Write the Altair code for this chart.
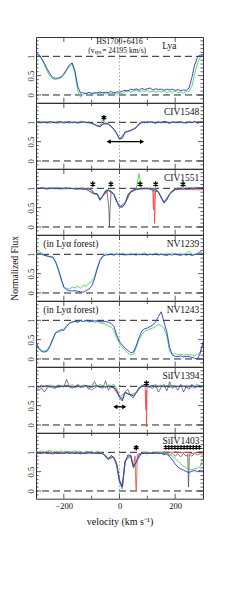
import altair as alt
import pandas as pd

FONT = "Liberation Serif"
VEL = list(range(-300, 301, 10))

# ---------------- data (flux vs velocity) ----------------
LYA_BLUE = [
    1.07, 1.05, 0.95, 0.82, 0.68, 0.55, 0.45, 0.43, 0.44, 0.46,
    0.55, 0.66, 0.78, 0.83, 0.62, 0.22, 0.05, 0.06, 0.03, 0.07,
    0.04, 0.06, 0.05, 0.08, 0.05, 0.07, 0.06, 0.09, 0.05, 0.08,
    0.07, 0.10, 0.12, 0.10, 0.15, 0.13, 0.16, 0.12, 0.17, 0.14,
    0.16, 0.18, 0.13, 0.16, 0.14, 0.15, 0.12, 0.15, 0.13, 0.15,
    0.12, 0.14, 0.11, 0.13, 0.12, 0.18, 0.45, 0.78, 0.97, 1.03,
    1.05]
LYA_GREEN = [
    1.08, 1.02, 0.93, 0.78, 0.62, 0.48, 0.42, 0.40, 0.42, 0.45,
    0.52, 0.63, 0.74, 0.80, 0.55, 0.12, -0.06, 0.02, 0.05, 0.01,
    0.04, 0.02, 0.06, 0.03, 0.07, 0.02, 0.05, 0.03, 0.06, 0.02,
    0.05, 0.04, 0.08, 0.12, 0.07, 0.10, 0.13, 0.08, 0.11, 0.09,
    0.12, 0.08, 0.10, 0.07, 0.10, 0.08, 0.11, 0.06, 0.09, 0.07,
    0.10, 0.06, 0.08, 0.05, 0.09, 0.10, 0.22, 0.55, 0.82, 0.97,
    1.03]

CIV1548_BLUE = [
    1.00, 1.02, 0.99, 1.01, 0.98, 1.02, 1.00, 0.99, 1.02, 1.01,
    0.98, 1.00, 1.02, 0.99, 1.01, 0.98, 1.00, 1.02, 0.99, 1.00,
    0.98, 0.95, 0.92, 0.88, 0.95, 0.98, 0.96, 0.90, 0.82, 0.72,
    0.57, 0.60, 0.75, 0.77, 0.79, 0.82, 0.86, 0.96, 1.00, 1.01,
    0.99, 1.02, 1.00, 0.98, 1.01, 0.99, 1.02, 1.00, 0.98, 1.01,
    1.00, 0.99, 1.02, 0.98, 1.00, 1.01, 0.99, 1.02, 0.98, 1.00,
    1.01]
CIV1548_GREEN = [
    1.02, 0.98, 1.03, 0.99, 1.01, 0.97, 1.02, 1.00, 0.98, 1.03,
    0.99, 1.01, 0.97, 1.02, 1.00, 0.98, 1.03, 0.99, 1.01, 0.98,
    0.97, 0.94, 0.90, 0.89, 1.06, 0.99, 0.95, 0.89, 0.80, 0.70,
    0.56, 0.58, 0.73, 0.76, 0.80, 0.83, 0.88, 0.97, 1.01, 0.98,
    1.03, 0.99, 1.01, 0.97, 1.02, 0.98, 1.03, 1.00, 0.97, 1.02,
    0.99, 1.03, 0.98, 1.01, 0.97, 1.02, 0.99, 1.03, 0.98, 1.01,
    0.99]
CIV1548_RED_V = [-300, -280, -260, -240, -220, -200, -180, -160, -140, -120,
                 -100, -80, -60, -40, -20, 0, 20, 40, 60, 80,
                 100, 120, 140, 160, 180, 200, 220, 240, 260, 280, 300]
CIV1548_RED = [1.00, 0.99, 1.01, 1.00, 0.98, 1.01, 1.00, 0.99, 1.01, 1.00,
               0.98, 0.90, 0.96, 0.95, 0.82, 0.58, 0.74, 0.78, 0.87, 0.99,
               1.01, 0.99, 1.00, 1.02, 0.99, 1.00, 1.01, 0.99, 1.00, 1.02, 1.00]

CIV1551_BLUE = [
    1.00, 0.99, 1.01, 1.00, 0.98, 1.00, 1.01, 0.99, 1.00, 0.98,
    1.00, 1.01, 0.99, 1.00, 0.98, 0.99, 1.00, 0.98, 0.99, 0.98,
    0.95, 0.87, 0.86, 0.70, 0.80, 0.93, 0.95, 0.92, 0.84, 0.65,
    0.52, 0.51, 0.60, 0.82, 0.91, 0.95, 0.98, 0.99, 1.00, 0.99,
    1.00, 0.99, 0.98, 0.97, 0.90, 0.75, 0.62, 0.70, 0.84, 0.93,
    0.97, 0.99, 1.00, 1.01, 0.99, 1.00, 1.01, 1.00, 1.02, 1.00,
    1.02]
CIV1551_GREEN = [
    1.01, 0.99, 1.02, 0.98, 1.00, 1.02, 0.99, 1.01, 0.98, 1.02,
    1.00, 0.98, 1.02, 0.99, 1.01, 0.97, 1.00, 1.02, 0.98, 1.00,
    0.96, 0.86, 0.85, 0.68, 0.82, 0.95, 0.97, 0.93, 0.85, 0.66,
    0.53, 0.52, 0.62, 0.84, 0.92, 0.96, 0.98, 1.38, 0.99, 1.01,
    0.98, 1.02, 0.99, 1.00, 0.92, 0.77, 0.63, 0.72, 0.86, 0.95,
    0.98, 1.01, 0.99, 1.16, 1.00, 1.02, 0.99, 1.03, 1.00, 1.02,
    1.01]
CIV1551_RED_V = [-300, -280, -260, -240, -220, -200, -180, -160, -140, -120,
                 -100, -90, -80, -70, -60, -40, -20, 0, 20, 40,
                 60, 80, 100, 115, 120, 122, 124, 126, 128, 130,
                 140, 160, 180, 200, 220, 240, 260, 280, 300]
CIV1551_RED = [1.00, 1.01, 0.99, 1.00, 1.01, 0.99, 1.00, 0.99, 0.98, 0.97,
               0.90, 0.86, 0.84, 0.70, 0.80, 0.94, 0.84, 0.52, 0.62, 0.90,
               0.97, 0.99, 0.99, 0.98, 0.90, 0.45, 0.95, 0.09, 0.60, 0.97,
               0.90, 0.64, 0.85, 0.96, 0.98, 0.97, 0.97, 0.96, 0.97]
CIV1551_BLACK_V = [-300, -200, -120, -100, -90, -80, -70, -60, -45, -38,
                   -36, -34, -30, -20, 0, 20, 40, 60, 100, 140,
                   160, 180, 200, 300]
CIV1551_BLACK = [1.00, 1.00, 0.99, 0.88, 0.85, 0.84, 0.72, 0.82, 0.93, 0.45,
                 0.00, 0.45, 0.92, 0.84, 0.52, 0.62, 0.90, 0.97, 1.00, 0.90,
                 0.65, 0.85, 0.97, 1.00]

NV1239_BLUE = [
    0.98, 1.02, 1.01, 0.97, 0.96, 0.94, 0.93, 0.82, 0.62, 0.38,
    0.15, 0.08, 0.06, 0.05, 0.06, 0.04, 0.03, 0.02, 0.06, 0.10,
    0.18, 0.36, 0.62, 0.84, 0.95, 0.98, 0.99, 1.00, 0.98, 1.01,
    0.99, 1.00, 0.98, 1.01, 0.99, 1.00, 0.98, 1.01, 0.99, 1.00,
    0.98, 1.00, 0.99, 1.01, 0.98, 1.00, 0.99, 0.97, 1.00, 0.98,
    1.01, 0.99, 0.97, 1.00, 0.98, 1.00, 0.97, 0.99, 1.02, 1.07,
    1.00]
NV1239_GREEN = [
    1.00, 1.08, 1.03, 0.98, 0.95, 0.93, 0.92, 0.80, 0.60, 0.35,
    0.14, 0.12, 0.10, 0.15, 0.13, 0.18, 0.12, 0.20, 0.17, 0.25,
    0.30, 0.42, 0.66, 0.86, 0.96, 1.02, 0.98, 1.03, 0.99, 1.02,
    0.98, 1.03, 1.00, 0.97, 1.02, 0.99, 1.03, 0.98, 1.01, 1.04,
    0.99, 1.02, 0.98, 1.03, 1.00, 1.02, 0.98, 1.01, 0.99, 1.03,
    1.00, 0.98, 1.02, 1.00, 1.03, 1.08, 0.99, 1.01, 1.00, 1.02,
    1.00]

NV1243_BLUE = [
    0.44, 0.27, 0.19, 0.18, 0.20, 0.32, 0.50, 0.68, 0.70, 0.76,
    0.74, 0.84, 0.92, 0.96, 0.97, 0.96, 0.99, 0.97, 1.00, 0.98,
    0.97, 0.99, 0.98, 0.97, 0.96, 0.97, 0.95, 0.92, 0.84, 0.62,
    0.45, 0.36, 0.28, 0.22, 0.16, 0.18, 0.34, 0.55, 0.72, 0.78,
    0.80, 0.84, 0.88, 0.96, 1.10, 1.22, 0.95, 0.70, 0.30, 0.10,
    0.07, 0.06, 0.08, 0.05, 0.07, 0.06, 0.04, 0.02, 0.00, 0.15,
    0.44]
NV1243_GREEN = [
    0.40, 0.30, 0.22, 0.20, 0.24, 0.35, 0.52, 0.66, 0.74, 0.72,
    0.78, 0.86, 0.93, 0.95, 0.98, 0.94, 1.00, 0.96, 0.99, 0.95,
    0.99, 0.94, 0.97, 0.93, 0.92, 0.90, 0.86, 0.82, 0.74, 0.55,
    0.40, 0.30, 0.22, 0.15, 0.10, 0.12, 0.30, 0.50, 0.62, 0.72,
    0.74, 0.78, 0.80, 0.84, 0.90, 0.86, 0.80, 0.60, 0.20, 0.12,
    0.14, 0.10, 0.13, 0.09, 0.12, 0.10, 0.11, 0.08, 0.12, 0.18,
    0.38]

SIIV1394_BLUE = [
    1.00, 0.98, 1.01, 0.99, 1.02, 0.98, 1.00, 0.97, 1.01, 0.99,
    1.00, 1.02, 0.98, 1.00, 0.99, 1.01, 0.97, 1.00, 1.02, 0.99,
    0.98, 1.00, 1.01, 0.99, 1.00, 0.98, 1.00, 0.99, 0.97, 0.90,
    0.72, 0.62, 0.84, 0.80, 0.78, 0.75, 0.82, 0.95, 1.00, 1.01,
    0.99, 1.00, 1.02, 0.98, 1.00, 1.01, 0.99, 1.00, 0.98, 1.01,
    1.00, 0.99, 1.01, 1.00, 0.98, 1.00, 1.02, 0.99, 1.00, 1.01,
    0.99]
SIIV1394_GREEN = [
    1.02, 0.99, 1.03, 1.00, 0.98, 1.04, 1.00, 0.99, 1.03, 1.01,
    0.98, 1.03, 1.00, 1.05, 0.99, 1.02, 0.98, 1.04, 1.00, 1.02,
    0.99, 1.03, 1.00, 1.05, 1.01, 0.98, 1.04, 1.02, 1.05, 0.93,
    0.74, 0.64, 0.86, 0.82, 0.80, 0.77, 0.84, 0.97, 1.02, 1.00,
    1.03, 0.99, 1.02, 1.05, 1.00, 1.03, 0.98, 1.02, 1.04, 1.00,
    1.02, 0.99, 1.04, 1.00, 1.02, 0.98, 1.03, 1.01, 1.05, 1.00,
    1.02]
SIIV1394_RED_V = [-300, -280, -260, -240, -220, -200, -180, -160, -140, -120,
                  -100, -80, -60, -40, -20, 0, 20, 40, 60, 80,
                  92, 95, 96, 97, 99, 120, 140, 160, 180, 200,
                  220, 240, 260, 280, 300]
SIIV1394_RED = [1.00, 0.98, 1.01, 1.00, 0.97, 1.02, 1.00, 0.97, 1.00, 1.01,
                0.90, 1.00, 0.98, 1.00, 0.95, 0.72, 0.84, 0.78, 0.84, 1.00,
                1.00, 0.40, 0.90, -0.05, 1.00, 1.01, 0.99, 1.00, 1.02, 0.99,
                1.00, 1.01, 0.98, 1.00, 1.01]
SIIV1394_BLACK = [
    0.98, 0.90, 0.95, 0.85, 0.97, 1.00, 0.96, 0.95, 1.03, 1.02,
    0.98, 1.18, 1.00, 0.95, 0.99, 1.05, 1.00, 0.98, 1.02, 0.92,
    1.00, 1.12, 1.00, 0.97, 0.95, 1.14, 0.90, 1.00, 0.97, 0.88,
    0.75, 0.68, 0.86, 0.92, 0.75, 0.70, 0.85, 0.96, 1.02, 1.05,
    1.00, 0.97, 0.95, 1.03, 0.85, 0.98, 1.05, 0.88, 1.12, 0.95,
    1.00, 0.90, 1.05, 0.85, 1.00, 0.92, 1.05, 0.95, 1.00, 0.97,
    1.00]

SIIV1403_BLUE = [
    0.97, 0.98, 0.97, 0.99, 0.97, 0.98, 0.96, 0.98, 0.97, 0.98,
    0.97, 0.99, 0.97, 0.98, 0.97, 0.98, 0.96, 0.98, 0.97, 0.99,
    0.97, 0.98, 0.97, 0.98, 0.96, 0.90, 0.82, 0.92, 0.86, 0.68,
    0.25, 0.10, 0.75, 0.93, 0.92, 0.62, 0.75, 0.93, 0.97, 0.98,
    0.96, 0.98, 0.97, 0.99, 0.97, 0.98, 0.96, 0.95, 0.89, 0.80,
    0.70, 0.62, 0.57, 0.54, 0.50, 0.48, 0.51, 0.53, 0.50, 0.54,
    0.51]
SIIV1403_GREEN = [
    1.02, 1.00, 1.04, 0.99, 1.03, 1.05, 1.00, 1.03, 1.01, 1.04,
    1.00, 1.03, 0.99, 1.02, 1.04, 1.00, 1.02, 0.99, 1.03, 1.01,
    1.02, 0.99, 1.03, 1.00, 0.97, 0.88, 0.80, 0.90, 0.85, 0.64,
    0.20, 0.05, 0.72, 0.90, 0.88, 0.58, 0.72, 0.92, 0.97, 1.00,
    0.98, 1.00, 0.97, 0.99, 1.00, 0.98, 0.99, 0.98, 0.95, 0.90,
    0.84, 0.77, 0.70, 0.64, 0.60, 0.56, 0.55, 0.57, 0.59, 0.63,
    0.84]
SIIV1403_RED_V = [-300, -280, -260, -240, -220, -200, -180, -160, -140, -120,
                  -100, -80, -60, -40, -20, -10, 0, 10, 20, 40,
                  50, 56, 58, 60, 62, 64, 80, 100, 120, 140,
                  160, 180, 200, 220, 240, 260, 280, 300]
SIIV1403_RED = [1.00, 0.99, 1.01, 1.00, 0.99, 1.00, 1.01, 0.99, 1.00, 0.99,
                1.00, 0.99, 0.97, 0.85, 0.88, 0.70, 0.28, 0.14, 0.76, 0.93,
                0.65, 0.90, 0.30, 0.02, 0.40, 0.95, 0.98, 1.00, 0.99, 1.00,
                1.01, 1.00, 1.01, 0.99, 1.00, 0.97, 1.00, 1.01]
SIIV1403_BLACK_V = [-300, -260, -220, -180, -140, -100, -60, -40, -20, -10,
                    0, 10, 20, 40, 50, 60, 80, 120, 150, 160,
                    170, 180, 190, 200, 210, 220, 230, 240, 245, 248,
                    251, 260, 270, 280, 290, 300]
SIIV1403_BLACK = [0.98, 0.99, 0.98, 0.99, 0.98, 0.99, 0.97, 0.83, 0.87, 0.70,
                  0.28, 0.12, 0.77, 0.92, 0.62, 0.75, 0.97, 0.98, 0.97, 0.93,
                  0.99, 0.92, 0.98, 0.90, 0.96, 0.88, 0.97, 0.90, 0.95, 0.10,
                  0.95, 0.90, 0.98, 0.93, 0.97, 0.95]

# markers: asterisks, double arrows, labels
STAR_CIV1548_V, STAR_CIV1548_F = [-56], [1.12]
STAR_CIV1551_V = [-96, -31, 74, 130, 228]
STAR_CIV1551_F = [1.11, 1.11, 1.11, 1.11, 1.11]
STAR_SIIV1394_V, STAR_SIIV1394_F = [97], [1.08]
STAR_SIIV1403_V, STAR_SIIV1403_F = [60], [1.12]
STAR_ROW_SIIV1403_V = [166, 177, 188, 199, 210, 221, 232, 243, 254, 265, 276, 287]
ARROW_CIV1548 = (-42, 84, 0.50)
ARROW_SIIV1394 = (-18, 20, 0.47)

X_LABELS = [-200, 0, 200]
X_MAJOR = [-200, 0, 200]
X_MINOR = [-100, 100]
Y_LABELS = [0, 0.5, 1]
Y_MAJOR = [0, 0.5, 1]
Y_MINOR = [-0.1, 0.1, 0.2, 0.3, 0.4, 0.6, 0.7, 0.8, 0.9, 1.1, 1.2, 1.3, 1.4]

for arr in [LYA_BLUE, LYA_GREEN, CIV1548_BLUE, CIV1548_GREEN, CIV1551_BLUE,
            CIV1551_GREEN, NV1239_BLUE, NV1239_GREEN, NV1243_BLUE, NV1243_GREEN,
            SIIV1394_BLUE, SIIV1394_GREEN, SIIV1394_BLACK, SIIV1403_BLUE,
            SIIV1403_GREEN]:
    assert len(arr) == len(VEL), len(arr)

PANELS = [
    dict(name="Lya", lx=205, ly=1.27, blue=LYA_BLUE, green=LYA_GREEN),
    dict(name="CIV1548", lx=287, ly=1.27, blue=CIV1548_BLUE, green=CIV1548_GREEN,
         red=(CIV1548_RED_V, CIV1548_RED), stars=(STAR_CIV1548_V, STAR_CIV1548_F),
         arrow=ARROW_CIV1548),
    dict(name="CIV1551", lx=287, ly=1.27, blue=CIV1551_BLUE, green=CIV1551_GREEN,
         red=(CIV1551_RED_V, CIV1551_RED), black=(CIV1551_BLACK_V, CIV1551_BLACK),
         stars=(STAR_CIV1551_V, STAR_CIV1551_F)),
    dict(name="NV1239", lx=287, ly=1.28, blue=NV1239_BLUE, green=NV1239_GREEN,
         forest=True, ytitle="Normalized Flux"),
    dict(name="NV1243", lx=287, ly=1.28, blue=NV1243_BLUE, green=NV1243_GREEN,
         forest=True),
    dict(name="SiIV1394", lx=287, ly=1.28, blue=SIIV1394_BLUE, green=SIIV1394_GREEN,
         red=(SIIV1394_RED_V, SIIV1394_RED), black=(VEL, SIIV1394_BLACK),
         stars=(STAR_SIIV1394_V, STAR_SIIV1394_F), arrow=ARROW_SIIV1394),
    dict(name="SiIV1403", lx=287, ly=1.30, blue=SIIV1403_BLUE, green=SIIV1403_GREEN,
         red=(SIIV1403_RED_V, SIIV1403_RED), black=(SIIV1403_BLACK_V, SIIV1403_BLACK),
         stars=(STAR_SIIV1403_V, STAR_SIIV1403_F), starrow=STAR_ROW_SIIV1403_V),
]

W, H = 167, 65.7
XS = alt.Scale(domain=[-300, 300], nice=False, zero=False)
YS = alt.Scale(domain=[-0.2, 1.5], nice=False, zero=False)
ASTER = "M0,-1L0,1M-0.87,-0.5L0.87,0.5M-0.87,0.5L0.87,-0.5"
FRAME = "#333333"
BLUE, GREEN, RED, BLACK = "#2a2aff", "#3ae03a", "#ff3a3a", "#444444"


def df(v, f):
    return pd.DataFrame({"v": list(v), "f": list(f)})


def make_panel(p, last):
    if last:
        xax = alt.Axis(values=X_LABELS, ticks=False, domain=False, grid=False,
                       labelFont=FONT, labelFontSize=8.5, labelColor="#111",
                       labelPadding=3, title="velocity (km s⁻¹)", titleFont=FONT,
                       titleFontSize=10, titleFontWeight="normal", titleColor="#111",
                       titlePadding=6)
    else:
        xax = None
    ykw = dict(values=Y_LABELS, format="~g", labelAngle=270, ticks=False,
               domain=False, grid=False, labelFont=FONT, labelFontSize=8.5,
               labelColor="#111", labelPadding=1)
    if p.get("ytitle"):
        yax = alt.Axis(title=p["ytitle"], titleFont=FONT, titleFontSize=9.5,
                       titleFontWeight="normal", titleColor="#111",
                       titlePadding=7, **ykw)
    else:
        yax = alt.Axis(title=None, **ykw)
    X = alt.X("v:Q", scale=XS, axis=xax)
    Y = alt.Y("f:Q", scale=YS, axis=yax)

    layers = []
    layers.append(alt.Chart(pd.DataFrame({"v": [0]})).mark_rule(
        color="#aaaaaa", strokeDash=[1.5, 2], strokeWidth=1).encode(x=X))
    layers.append(alt.Chart(pd.DataFrame({"f": [0, 1]})).mark_rule(
        color="#222222", strokeDash=[7, 4], strokeWidth=1).encode(y=Y))
    if "black" in p:
        layers.append(alt.Chart(df(*p["black"])).mark_line(
            color=BLACK, strokeWidth=0.7, clip=True).encode(x=X, y=Y))
    if "red" in p:
        layers.append(alt.Chart(df(*p["red"])).mark_line(
            color=RED, strokeWidth=0.8, clip=True).encode(x=X, y=Y))
    layers.append(alt.Chart(df(VEL, p["green"])).mark_line(
        color=GREEN, strokeWidth=0.9, clip=True).encode(x=X, y=Y))
    layers.append(alt.Chart(df(VEL, p["blue"])).mark_line(
        color=BLUE, strokeWidth=0.9, clip=True).encode(x=X, y=Y))

    # label
    lab = pd.DataFrame({"v": [p["lx"]], "f": [p["ly"]], "t": [p["name"]]})
    layers.append(alt.Chart(lab).mark_text(
        align="right", baseline="middle", font=FONT, fontSize=9.5, color="#111"
    ).encode(x=X, y=Y, text="t:N"))
    if p.get("forest"):
        fl = pd.DataFrame({"v": [-274], "f": [p["ly"]], "t": ["(in Lyα forest)"]})
        layers.append(alt.Chart(fl).mark_text(
            align="left", baseline="middle", font=FONT, fontSize=9.5, color="#111"
        ).encode(x=X, y=Y, text="t:N"))
    if p["name"] == "Lya":
        t1 = pd.DataFrame({"v": [0], "f": [1.37], "t": ["HS1700+6416"]})
        layers.append(alt.Chart(t1).mark_text(
            align="center", baseline="middle", font=FONT, fontSize=8, color="#111"
        ).encode(x=X, y=Y, text="t:N"))
        t2 = pd.DataFrame({"v": [-90], "f": [1.14], "t": ["(v"]})
        layers.append(alt.Chart(t2).mark_text(
            align="right", baseline="middle", font=FONT, fontSize=7.5, color="#111"
        ).encode(x=X, y=Y, text="t:N"))
        t3 = pd.DataFrame({"v": [-90], "f": [1.10], "t": ["sys"]})
        layers.append(alt.Chart(t3).mark_text(
            align="left", baseline="middle", font=FONT, fontSize=5.5, color="#111"
        ).encode(x=X, y=Y, text="t:N"))
        t4 = pd.DataFrame({"v": [-62], "f": [1.14], "t": ["= 24195 km/s)"]})
        layers.append(alt.Chart(t4).mark_text(
            align="left", baseline="middle", font=FONT, fontSize=7.5, color="#111"
        ).encode(x=X, y=Y, text="t:N"))
    if "stars" in p:
        layers.append(alt.Chart(df(*p["stars"])).mark_point(
            shape=ASTER, filled=False, color="#000", strokeWidth=1.3, size=30,
            opacity=1).encode(x=X, y=Y))
    if "starrow" in p:
        sr = p["starrow"]
        layers.append(alt.Chart(df(sr, [1.13] * len(sr))).mark_point(
            shape=ASTER, filled=False, color="#000", strokeWidth=1.1, size=22,
            opacity=1).encode(x=X, y=Y))
    if "arrow" in p:
        a0, a1, af = p["arrow"]
        ar = pd.DataFrame({"v": [a0], "v2": [a1], "f": [af]})
        layers.append(alt.Chart(ar).mark_rule(color="#000", strokeWidth=1.4).encode(
            x=X, x2="v2:Q", y=Y))
        layers.append(alt.Chart(df([a0 + 3], [af])).mark_point(
            shape="triangle-left", filled=True, color="#000", size=22, opacity=1
        ).encode(x=X, y=Y))
        layers.append(alt.Chart(df([a1 - 3], [af])).mark_point(
            shape="triangle-right", filled=True, color="#000", size=22, opacity=1
        ).encode(x=X, y=Y))

    # inward ticks (frame)
    for vals, ln in ((X_MAJOR, 5), (X_MINOR, 3)):
        d = pd.DataFrame({"v": vals})
        layers.append(alt.Chart(d).mark_rule(color=FRAME, strokeWidth=0.8).encode(
            x=X, y=alt.value(0), y2=alt.value(ln)))
        layers.append(alt.Chart(d).mark_rule(color=FRAME, strokeWidth=0.8).encode(
            x=X, y=alt.value(H - ln), y2=alt.value(H)))
    for vals, ln in ((Y_MAJOR, 5), (Y_MINOR, 2.5)):
        d = pd.DataFrame({"f": vals})
        layers.append(alt.Chart(d).mark_rule(color=FRAME, strokeWidth=0.8).encode(
            y=Y, x=alt.value(0), x2=alt.value(ln)))
        layers.append(alt.Chart(d).mark_rule(color=FRAME, strokeWidth=0.8).encode(
            y=Y, x=alt.value(W - ln), x2=alt.value(W)))

    return alt.layer(*layers).properties(width=W, height=H)


charts = [make_panel(p, i == len(PANELS) - 1) for i, p in enumerate(PANELS)]
chart = alt.vconcat(*charts, spacing=0, bounds="flush").properties(
    padding={"left": 0, "top": 28, "right": 4, "bottom": 4},
    background="white",
).configure_view(stroke=FRAME, strokeWidth=1)

chart.save("out.html", embed_options={"renderer": "svg", "actions": False})
